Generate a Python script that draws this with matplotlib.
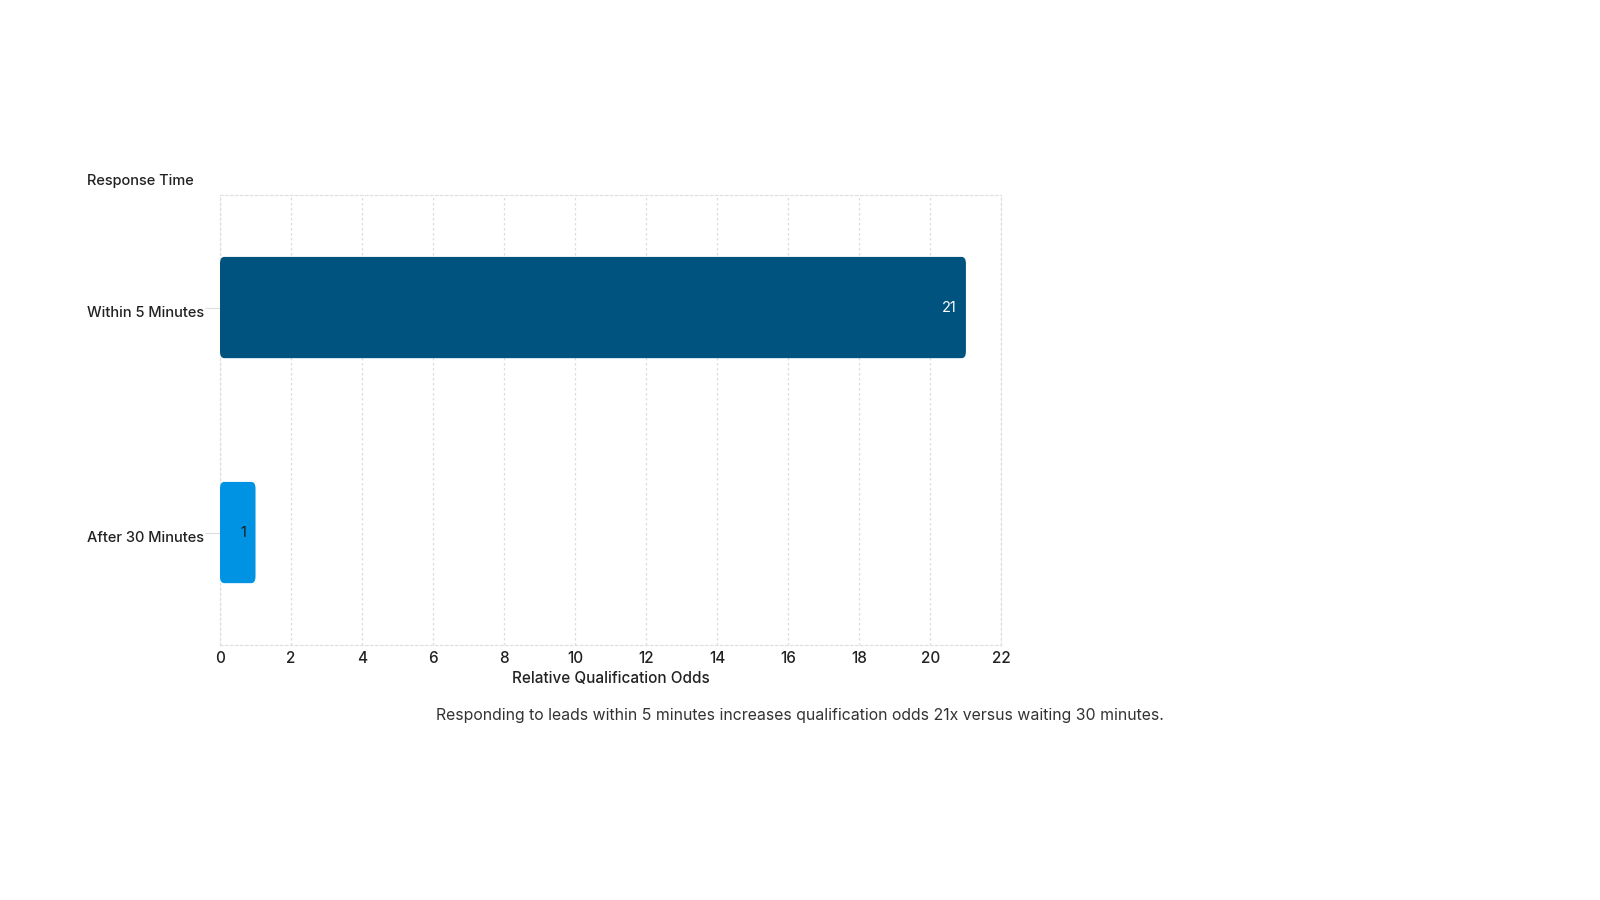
import matplotlib
matplotlib.use("Agg")
import matplotlib.pyplot as plt
from matplotlib.patches import FancyBboxPatch
from matplotlib.transforms import ScaledTranslation

plt.rcParams['font.family'] = ['Inter', 'DejaVu Sans']

# data
categories = ["Within 5 Minutes", "After 30 Minutes"]
odds = [21, 1]
bar_colors = ["#00537f", "#0093e3"]
label_colors = ["white", "#1a1a1a"]
x_ticks = list(range(0, 23, 2))

fig = plt.figure(figsize=(16, 9), dpi=100)
ax = fig.add_axes([0.1375, 0.2833, 0.4884, 0.5])

ypos = list(range(len(categories)))
bar_h = 0.45
for y, v, c in zip(ypos, odds, bar_colors):
    # rounded bars drawn as patches in data coordinates
    ax.add_patch(FancyBboxPatch((0, y - bar_h / 2), v, bar_h,
                                boxstyle="round,pad=0,rounding_size=0.12",
                                mutation_aspect=0.05 / 0.12 * 0.6,
                                facecolor=c, edgecolor="none", zorder=3))

for y, v, tc in zip(ypos, odds, label_colors):
    ax.text(v - 0.25, y, str(v), ha="right", va="center",
            fontsize=10.5, color=tc, zorder=4)

ax.set_xlim(0, 22)
ax.set_ylim(1.5, -0.5)
ax.set_xticks(x_ticks)
ax.set_yticks(ypos)
ax.set_yticklabels(categories, fontsize=10.5, color="#222222", ha="left", fontweight="medium")
ax.tick_params(axis="y", length=10.8, color="#dddddd", pad=85, width=0.8)
ax.tick_params(axis="x", length=0, pad=4, labelsize=11, labelcolor="#222222")
for lbl in ax.get_xticklabels():
    lbl.set_fontweight("medium")
# category labels sit a little below the bar centre in the reference
shift = ScaledTranslation(0, -0.04, fig.dpi_scale_trans)
for lbl in ax.get_yticklabels():
    lbl.set_transform(lbl.get_transform() + shift)

ax.grid(axis="x", linestyle=(0, (2, 2)), color="#dddddd", linewidth=0.9, zorder=0)
for side in ["top", "bottom", "left", "right"]:
    ax.spines[side].set_linestyle((0, (2, 2)))
    ax.spines[side].set_color("#e0e0e0")
    ax.spines[side].set_linewidth(0.9)

ax.set_xlabel("Relative Qualification Odds", fontsize=11, color="#222222", labelpad=4, fontweight="medium")
fig.text(0.0545, 0.799, "Response Time", fontsize=10.5, color="#222222", ha="left", va="center", fontweight="medium")
fig.text(0.5, 0.2055, "Responding to leads within 5 minutes increases qualification odds 21x versus waiting 30 minutes.",
         fontsize=11.4, color="#333333", ha="center", va="center")

fig.savefig("out.png", dpi=100)
